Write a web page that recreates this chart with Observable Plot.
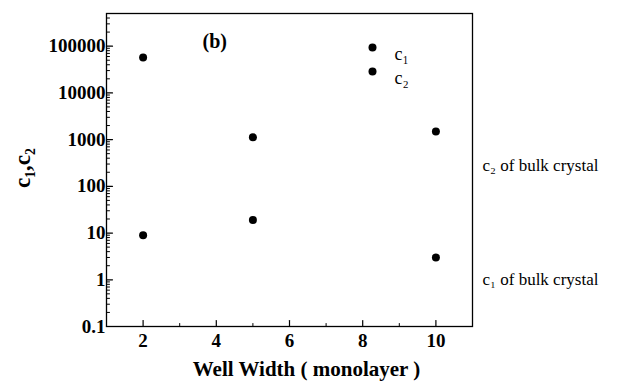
<!DOCTYPE html>
<html>
<head>
<meta charset="utf-8">
<script src="https://cdn.jsdelivr.net/npm/d3@7"></script>
<script src="https://cdn.jsdelivr.net/npm/@observablehq/plot@0.6"></script>
<style>
  html, body { margin: 0; padding: 0; background: #fff; }
</style>
</head>
<body>
<div id="chart"></div>
<script>
// Well widths (monolayers) and the two fitted coefficients
const widths = [2, 5, 10];
const c1 = [9, 19, 3];
const c2 = [57000, 1120, 1500];

// Axis ticks and labels
const yTicks = [0.1, 1, 10, 100, 1000, 10000, 100000];
const yTickLabels = ["0.1", "1", "10", "100", "1000", "10000", "100000"];
const xTicks = [2, 4, 6, 8, 10];
const xMinor = [3, 5, 7, 9];

// Legend entries and bulk-crystal reference labels
const legendNames = ["c\u2081", "c\u2082"];
const bulkNames = ["c\u2082 of bulk crystal", "c\u2081 of bulk crystal"];
const bulkLevels = [285, 1];

// Minor log ticks: 2..9 within each decade, up to the top of the frame
const yMinor = [];
for (let e = -1; e <= 5; e++) {
  for (let m = 2; m <= 9; m++) {
    const v = m * Math.pow(10, e);
    if (v <= 5e5) yMinor.push(v);
  }
}

const points = widths.flatMap((w, i) => [
  {width: w, value: c1[i], series: "c1"},
  {width: w, value: c2[i], series: "c2"}
]);

// Simple straight tick shape for vector marks
const tickLine = {draw(ctx, l) { ctx.moveTo(0, 0); ctx.lineTo(0, -l); }};

const serif = "'Liberation Serif', 'DejaVu Serif', serif";

const chart = Plot.plot({
  width: 624,
  height: 383,
  marginTop: 13,
  marginRight: 152,
  marginBottom: 57,
  marginLeft: 106,
  style: {fontFamily: serif, background: "#fff", color: "#000", overflow: "visible"},
  x: {domain: [1, 11], axis: null},
  y: {type: "log", domain: [0.1, 5e5], axis: null},
  marks: [
    Plot.frame({stroke: "#000", strokeWidth: 1.3}),
    // inward ticks on the left spine
    Plot.vector(yTicks, {y: d => d, frameAnchor: "left", rotate: 90, length: 6, anchor: "start", shape: tickLine, stroke: "#000", strokeWidth: 1.2}),
    Plot.vector(yMinor, {y: d => d, frameAnchor: "left", rotate: 90, length: 3, anchor: "start", shape: tickLine, stroke: "#000", strokeWidth: 1}),
    // inward ticks on the bottom spine
    Plot.vector(xTicks, {x: d => d, frameAnchor: "bottom", rotate: 0, length: 6, anchor: "start", shape: tickLine, stroke: "#000", strokeWidth: 1.2}),
    Plot.vector(xMinor, {x: d => d, frameAnchor: "bottom", rotate: 0, length: 3, anchor: "start", shape: tickLine, stroke: "#000", strokeWidth: 1}),
    // tick labels
    Plot.text(yTicks, {y: d => d, text: (d, i) => yTickLabels[i], frameAnchor: "left", textAnchor: "end", dx: -1, fontSize: 19, fontWeight: "bold", letterSpacing: 1.2, fill: "#000"}),
    Plot.text(xTicks, {x: d => d, text: d => String(d), frameAnchor: "bottom", lineAnchor: "top", dy: 7, fontSize: 19, fontWeight: "bold", fill: "#000"}),
    // axis titles
    Plot.text(["Well Width ( monolayer )"], {frameAnchor: "bottom", lineAnchor: "top", dx: 17, dy: 35, fontSize: 21, fontWeight: "bold", letterSpacing: 1.2, fill: "#000"}),
    Plot.text(["c\u2081,c\u2082"], {frameAnchor: "left", dx: -84, dy: 18, rotate: -90, fontSize: 23, fontWeight: "bold", fill: "#000"}),
    // panel tag
    Plot.text(["(b)"], {frameAnchor: "top-left", dx: 96, dy: 20, fontSize: 20, fontWeight: "bold", fill: "#000"}),
    // data
    Plot.dot(points, {x: "width", y: "value", r: 4, fill: "#000", stroke: "none"}),
    // legend
    ...legendNames.flatMap((name, i) => [
      Plot.dot([name], {frameAnchor: "top-left", dx: 266, dy: 34 + 24 * i, r: 4, fill: "#000", stroke: "none"}),
      Plot.text([name], {frameAnchor: "top-left", dx: 288, dy: 34 + 24 * i, textAnchor: "start", fontSize: 18, fill: "#000"})
    ]),
    // bulk crystal reference labels outside the frame
    Plot.text(bulkNames, {y: (d, i) => bulkLevels[i], frameAnchor: "right", dx: 10, textAnchor: "start", fontSize: 17, letterSpacing: 0.5, fill: "#000"})
  ]
});

document.getElementById("chart").appendChild(chart);
</script>
</body>
</html>
